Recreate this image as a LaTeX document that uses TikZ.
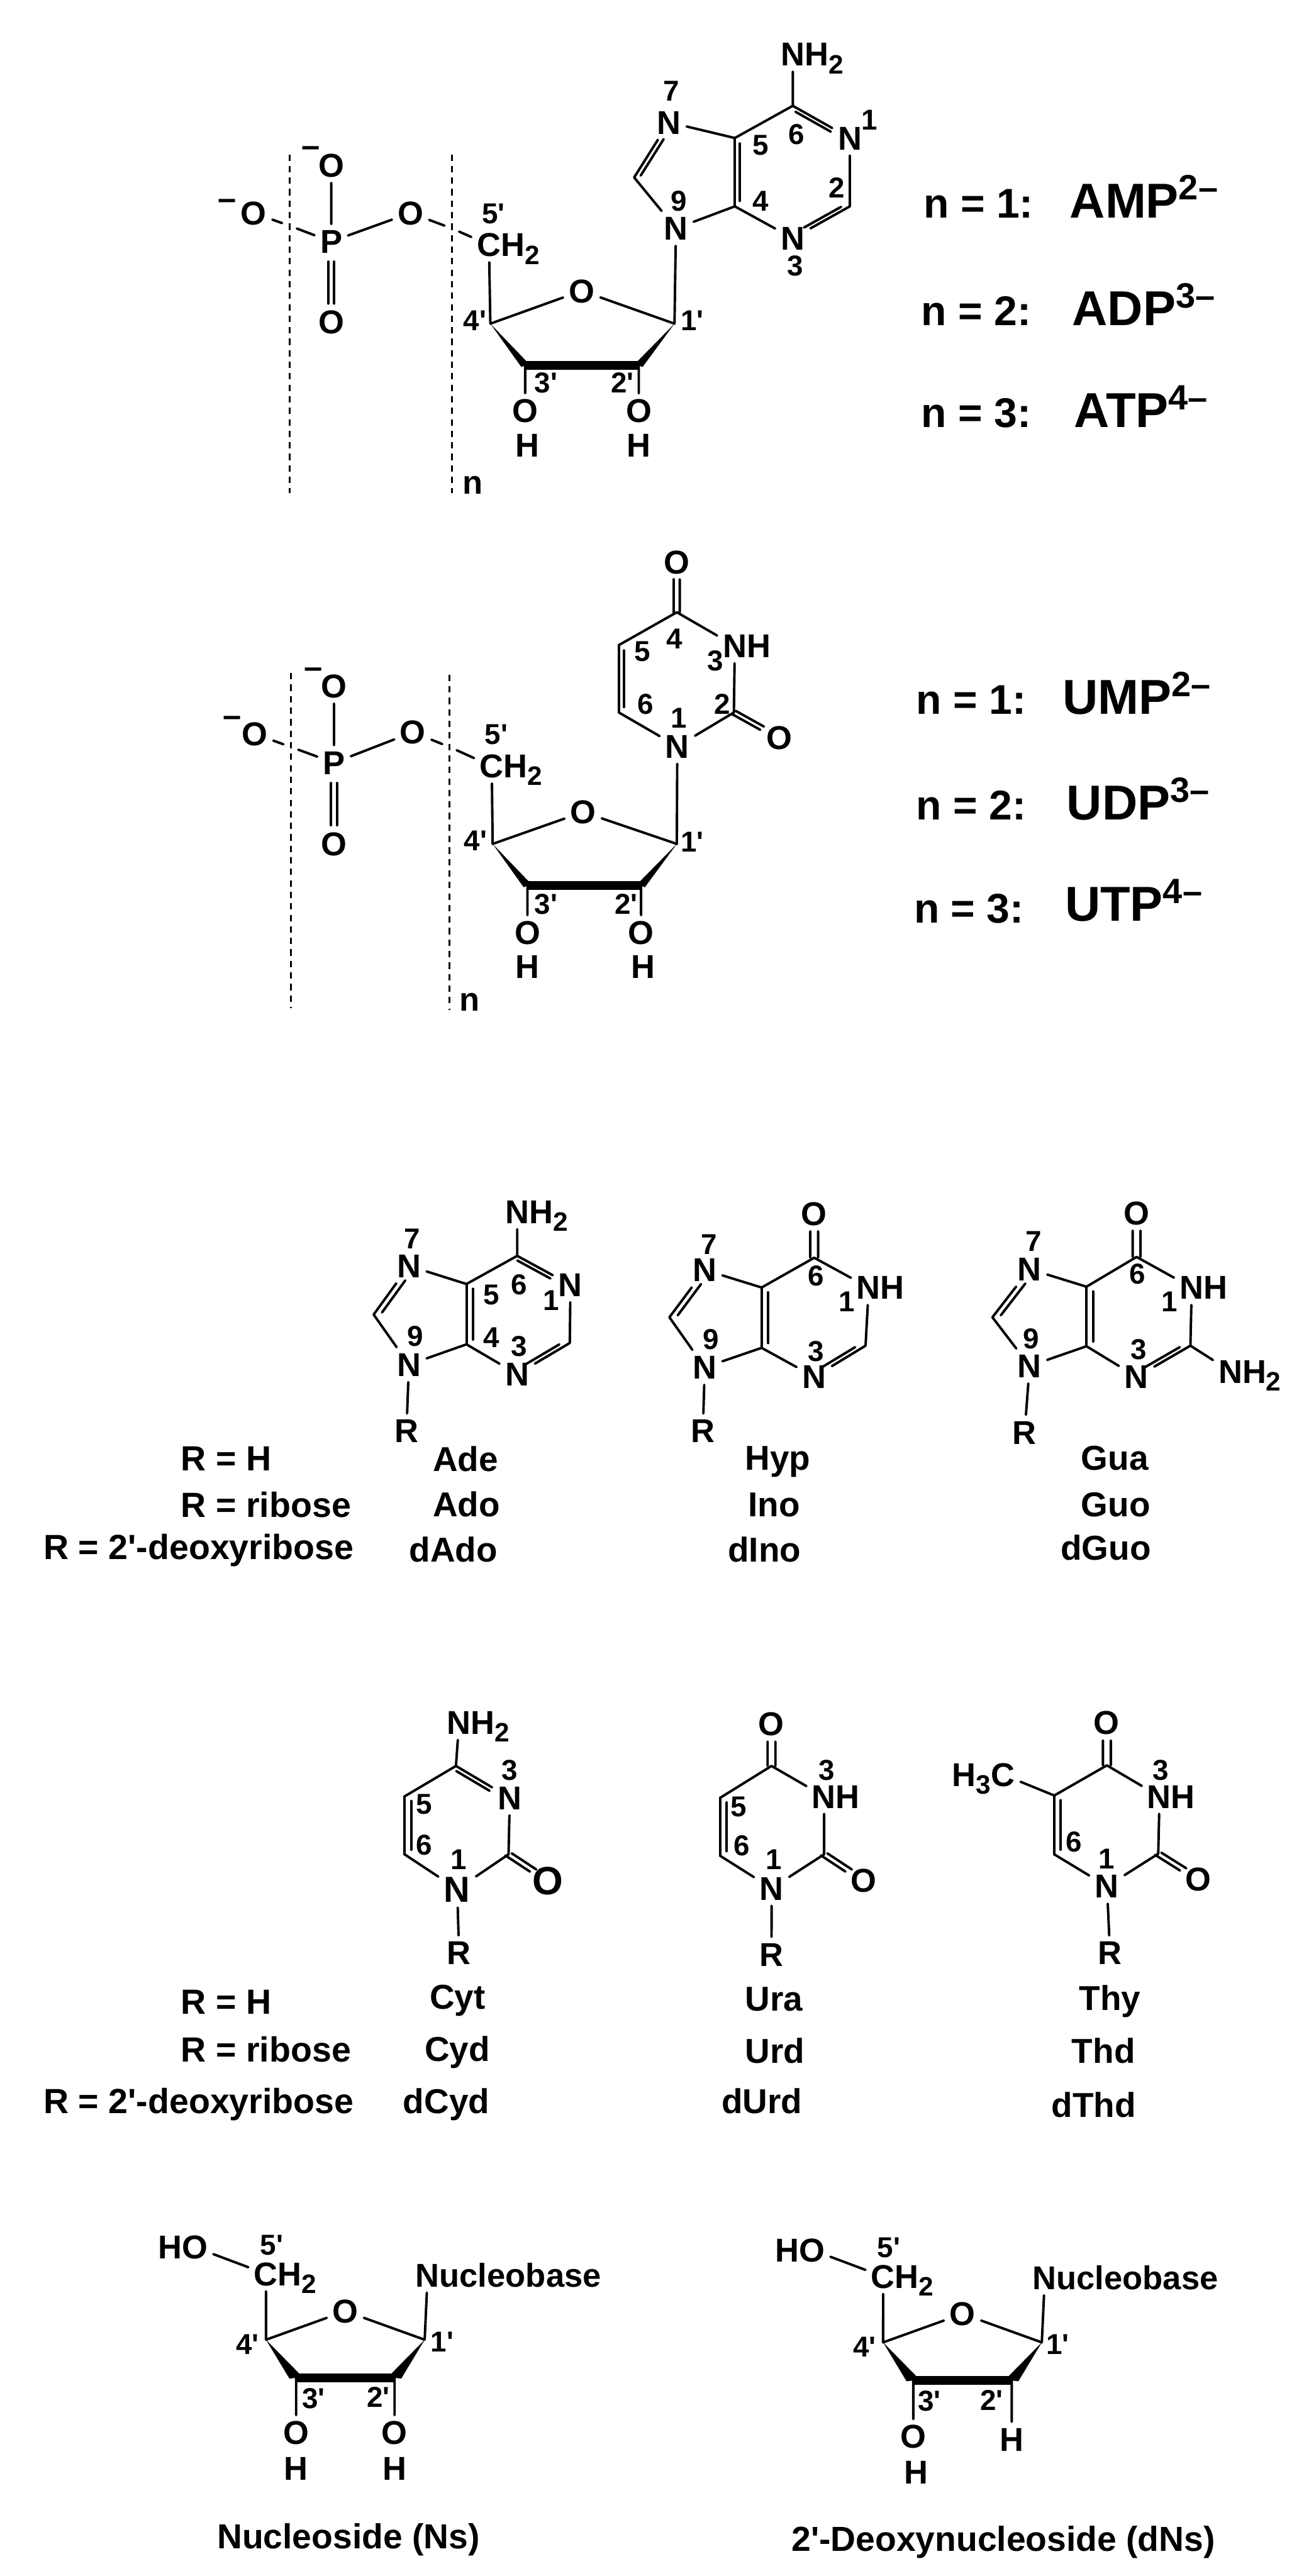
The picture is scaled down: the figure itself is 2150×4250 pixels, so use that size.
\documentclass[tikz,border=0pt]{standalone}
\usepackage{fontspec}
\usetikzlibrary{calc}
\newfontfamily\lab{Liberation Sans}
\newcommand\fAtom{\lab\bfseries\fontsize{15.5}{18}\selectfont}
\newcommand\fBigN{\lab\bfseries\fontsize{17}{20}\selectfont}
\newcommand\fBigO{\lab\bfseries\fontsize{18.5}{20}\selectfont}
\newcommand\fNum{\lab\bfseries\fontsize{13.5}{16}\selectfont}
\newcommand\fName{\lab\bfseries\fontsize{16.2}{19}\selectfont}
\newcommand\fTag{\lab\bfseries\fontsize{16.4}{20}\selectfont}
\newcommand\fCap{\lab\bfseries\fontsize{16.3}{20}\selectfont}
\newcommand\fN{\lab\bfseries\fontsize{19.5}{22}\selectfont}
\newcommand\fHead{\lab\bfseries\fontsize{23}{26}\selectfont}
\newcommand\fSup{\fontsize{16.5}{18}\selectfont}
\newcommand\sbs[1]{\raisebox{-3.6pt}{\fontsize{12.5}{14}\selectfont #1}}
\newcommand\spr[1]{\raisebox{8.3pt}{\fSup #1}}
\tikzset{
  bond/.style={line width=1.15pt,line cap=round,black},
  atom/.style={font=\fAtom,inner sep=2.5pt,text height=11pt,text depth=0pt},
  num/.style={font=\fNum,inner sep=0pt},
  minusmark/.style={font=\fAtom,inner sep=0pt},
  basetext/.style={anchor=base west,inner sep=0pt},
  gapnode/.style={circle,inner sep=0pt,minimum size=7pt},
  dashline/.style={line width=1pt,dash pattern=on 3pt off 2.4pt,black},
  barbond/.style={line width=4.1pt,line cap=butt,black},
  zoomA/.style={shift={(300,0)},xscale=0.7651,yscale=0.5421},
  zoomB/.style={shift={(300,880)},xscale=0.7651,yscale=0.5421},
  zoomC/.style={shift={(550,1930)},xscale=1.0204,yscale=0.4464},
  zoomD/.style={shift={(550,2770)},xscale=1.0204,yscale=0.4783},
  zoomE/.style={shift={(200,3560)},xscale=1.2117,yscale=0.4401},
}
\newcommand\Cds[1]{\foreach \n/\x/\y in {#1}{\coordinate (\n) at (\x,\y);}}
\newcommand\Atm[1]{\foreach \n/\tx/\x/\y in {#1}{\node[atom] (\n) at (\x,\y) {\tx};}}
\newcommand\Nms[1]{\foreach \s/\x/\y [count=\i] in {#1}{\node[num] (num\i) at (\x,\y) {\s};}}
\newcommand\Bds[1]{\foreach \p/\q in {#1}{\draw[bond] (\p) -- (\q);}}
% inner line of a double bond: a, b, side angle, start fraction, end fraction
\newcommand\Inb[5]{\draw[bond] ($(#1)!#4!(#2)!3pt!#3:(#2)$) -- ($(#1)!#5!(#2)!3pt!#3:(#2)$);}
% two parallel lines of an exocyclic double bond
\newcommand\Exo[4]{\draw[bond] ($(#1)!#3!(#2)!1.8pt!90:(#2)$) -- ($(#1)!#4!(#2)!1.8pt!90:(#2)$);
  \draw[bond] ($(#1)!#3!(#2)!1.8pt!-90:(#2)$) -- ($(#1)!#4!(#2)!1.8pt!-90:(#2)$);}
\newcommand\Wdg[2]{\fill[black] (#1) -- ($(#2)!2.7pt!90:(#1)$) -- ($(#2)!2.7pt!-90:(#1)$) -- cycle;}
\newcommand\Sgr[4]{\Wdg{#1}{#2}\Wdg{#4}{#3}\draw[barbond] (#2) -- (#3);}
\begin{document}
\begin{tikzpicture}[x=0.01cm,y=-0.01cm]
\fill[white] (0,0) rectangle (2150,4250);
\useasboundingbox (0,0) rectangle (2150,4250);

%% ---------- AMP / ADP / ATP
\begin{scope}[zoomA,name prefix=a-]
\Cds{c6/1317/322,c2/1440/628,c4/1192/628,c5/1192/420,c8/975/540,c1p/1062/985,c4p/665/985,c3p/740/1112,c2p/985/1112,d1t/232/470,d1b/232/1500,d2t/582/470,d2b/582/1500}
\Atm{nh/{N\rlap{H\sbs{2}}}/1317/165,n1/N/1440/420,n3/N/1317/725,n7/N/1050/372,n9/N/1065/695,o/O/862/885,
 o3/O/740/1250,h3/H/745/1355,o2/O/985/1250,h2/H/985/1355,ch/{C\rlap{H\sbs{2}}}/662/745,
 ob/O/493/648,p/P/322/735,ot/O/322/503,od/O/322/980,ol/O/155/648}
\node[gapnode] (g1) at (232,687) {};
\node[gapnode] (g2) at (582,695) {};
\Bds{c6/nh,c6/n1,n1/c2,c2/n3,n3/c4,c4/c5,c5/c6,c5/n7,n7/c8,c8/n9,n9/c4,n9/c1p,o/c1p,o/c4p,c4p/ch,c3p/o3,c2p/o2,ol/g1,g1/p,p/ot,p/ob,ob/g2,g2/ch}
\Inb{c6}{n1}{-90}{0.1}{0.72}
\Inb{c5}{c4}{90}{0.08}{0.92}
\Inb{c8}{n7}{-90}{0.06}{0.72}
\Inb{c2}{n3}{-90}{0.1}{0.75}
\Exo{p}{od}{0.25}{0.77}
\Sgr{c4p}{c3p}{c2p}{c1p}
\draw[dashline] (d1t) -- (d1b);
\draw[dashline] (d2t) -- (d2b);
\node[minusmark] (mt) at (278,462) {–};
\node[minusmark] (ml) at (98,622) {–};
\Nms{7/1055/278,1/1483/365,6/1325/410,5/1248/443,2/1412/572,4/1248/612,9/1072/612,3/1322/810,5'/672/650,4'/632/975,1'/1100/975,3'/785/1165,2'/950/1165}
\node[basetext,font=\fAtom] (nn) at (605,1503) {n};
\end{scope}
\node[basetext,font=\fN] (na1) at (1523,359) {n = 1:};
\node[basetext,font=\fN] (na2) at (1519,537) {n = 2:};
\node[basetext,font=\fN] (na3) at (1519,705) {n = 3:};
\node[basetext,font=\fHead] (amp) at (1764,359) {AMP\spr{2–}};
\node[basetext,font=\fHead] (adp) at (1768,537) {ADP\spr{3–}};
\node[basetext,font=\fHead] (atp) at (1771,705) {ATP\spr{4–}};

%% ---------- UMP / UDP / UTP
\begin{scope}[zoomB,name prefix=u-]
\Cds{c4/1067/240,c2/1190/545,c6/942/545,c5/942/340,c1p/1067/945,c4p/670/945,c3p/745/1072,c2p/990/1072,d1t/235/425,d1b/235/1445,d2t/577/430,d2b/577/1450}
\Atm{o4/O/1067/88,n3/{N\rlap{H}}/1192/342,o2x/O/1288/622,n1/N/1068/648,o/O/865/848,
 o3/O/745/1215,h3/H/745/1318,o2/O/990/1215,h2/H/995/1318,ch/{C\rlap{H\sbs{2}}}/668/708,
 ob/O/498/605,p/P/328/698,ot/O/328/465,od/O/328/945,ol/O/157/610}
\node[gapnode] (g1) at (235,650) {};
\node[gapnode] (g2) at (577,650) {};
\Bds{c4/n3,n3/c2,c2/n1,n1/c6,c6/c5,c5/c4,n1/c1p,o/c1p,o/c4p,c4p/ch,c3p/o3,c2p/o2,ol/g1,g1/p,p/ot,p/ob,ob/g2,g2/ch}
\Inb{c5}{c6}{90}{0.08}{0.92}
\Exo{c4}{o4}{0}{0.66}
\Exo{c2}{o2x}{0}{0.62}
\Exo{p}{od}{0.25}{0.77}
\Sgr{c4p}{c3p}{c2p}{c1p}
\draw[dashline] (d1t) -- (d1b);
\draw[dashline] (d2t) -- (d2b);
\node[minusmark] (mt) at (283,425) {–};
\node[minusmark] (ml) at (108,572) {–};
\Nms{4/1062/320,5/993/360,3/1150/388,6/1000/520,2/1165/520,1/1072/562,5'/678/612,4'/633/935,1'/1100/940,3'/785/1128,2'/958/1128}
\node[basetext,font=\fAtom] (nn) at (598,1453) {n};
\end{scope}
\node[basetext,font=\fN] (nu1) at (1511,1178) {n = 1:};
\node[basetext,font=\fN] (nu2) at (1511,1353) {n = 2:};
\node[basetext,font=\fN] (nu3) at (1507,1523) {n = 3:};
\node[basetext,font=\fHead] (ump) at (1752,1178) {UMP\spr{2–}};
\node[basetext,font=\fHead] (udp) at (1759,1353) {UDP\spr{3–}};
\node[basetext,font=\fHead] (utp) at (1756,1520) {UTP\spr{4–}};

%% ---------- purines
\begin{scope}[zoomC,name prefix=ade-]
\Cds{c6/297/318,c2/382/640,c4/215/645,c5/215/422,c8/65/535}
\Atm{nh/{N\rlap{H\sbs{2}}}/297/155,n1/N/383/425,n3/N/297/755,n7/N/122/355,n9/N/122/720,r/R/118/965}
\Bds{c6/nh,c6/n1,n1/c2,c2/n3,n3/c4,c4/c5,c5/c6,c5/n7,n7/c8,c8/n9,n9/c4,n9/r}
\Inb{c6}{n1}{-90}{0.1}{0.72}
\Inb{c5}{c4}{90}{0.08}{0.92}
\Inb{c8}{n7}{-90}{0.06}{0.72}
\Inb{c2}{n3}{-90}{0.1}{0.75}
\Nms{7/127/255,6/300/425,5/255/462,1/352/482,4/255/620,9/132/615,3/300/652}
\node[basetext,font=\fName] (t1) at (160,1115) {Ade};
\node[basetext,font=\fName] (t2) at (160,1282) {Ado};
\node[basetext,font=\fName] (t3) at (122,1450) {dAdo};
\end{scope}
\begin{scope}[zoomC,name prefix=hyp-]
\Cds{c6/777/325,c2/860/650,c4/692/658,c5/692/435,c8/543/545}
\Atm{o6/O/777/162,n1/{N\rlap{H}}/865/435,n3/N/777/765,n7/N/600/370,n9/N/600/730,r/R/597/965}
\Bds{c6/n1,n1/c2,c2/n3,n3/c4,c4/c5,c5/c6,c5/n7,n7/c8,c8/n9,n9/c4,n9/r}
\Exo{c6}{o6}{0}{0.6}
\Inb{c5}{c4}{90}{0.08}{0.92}
\Inb{c8}{n7}{-90}{0.06}{0.72}
\Inb{c2}{n3}{-90}{0.1}{0.75}
\Nms{7/607/275,6/780/392,1/830/487,3/780/672,9/610/627}
\node[basetext,font=\fName] (t1) at (665,1110) {Hyp};
\node[basetext,font=\fName] (t2) at (670,1282) {Ino};
\node[basetext,font=\fName] (t3) at (637,1450) {dIno};
\end{scope}
\begin{scope}[zoomC,name prefix=gua-]
\Cds{c6/1298/322,c2/1385/650,c4/1217/652,c5/1217/432,c8/1065/545}
\Atm{o6/O/1298/160,n1/{N\rlap{H}}/1387/435,n3/N/1298/765,n7/N/1125/367,n9/N/1125/725,r/R/1117/970,nh/{N\rlap{H\sbs{2}}}/1450/745}
\Bds{c6/n1,n1/c2,c2/n3,n3/c4,c4/c5,c5/c6,c5/n7,n7/c8,c8/n9,n9/c4,n9/r,c2/nh}
\Exo{c6}{o6}{0}{0.6}
\Inb{c5}{c4}{90}{0.08}{0.92}
\Inb{c8}{n7}{-90}{0.06}{0.72}
\Inb{c2}{n3}{-90}{0.1}{0.75}
\Nms{7/1132/265,6/1300/385,1/1352/487,3/1302/665,9/1128/625}
\node[basetext,font=\fName] (t1) at (1208,1110) {Gua};
\node[basetext,font=\fName] (t2) at (1208,1282) {Guo};
\node[basetext,font=\fName] (t3) at (1175,1442) {dGuo};
\end{scope}
\node[basetext,font=\fTag] (ra1) at (298,2426) {R = H};
\node[basetext,font=\fTag] (ra2) at (298,2503) {R = ribose};
\node[basetext,font=\fTag] (ra3) at (71,2573) {R = 2'-deoxyribose};

%% ---------- pyrimidines
\begin{scope}[zoomD,name prefix=cyt-]
\Cds{c4/198/300,c2/283/605,c6/115/605,c5/115/405}
\Atm{nh/{N\rlap{H\sbs{2}}}/203/150,n3/N/285/410,r/R/203/945}
\node[atom,font=\fBigN,text height=12pt] (n1) at (200,725) {N};
\node[atom,font=\fBigO,text height=13pt] (o2) at (347,695) {O};
\Bds{c4/nh,c4/n3,n3/c2,c2/n1,n1/c6,c6/c5,c5/c4,n1/r}
\Inb{c4}{n3}{-90}{0.1}{0.72}
\Inb{c5}{c6}{90}{0.08}{0.92}
\Exo{c2}{o2}{0}{0.62}
\Nms{3/285/315,5/147/432,6/147/572,1/203/622}
\node[basetext,font=\fName] (t1) at (155,1138) {Cyt};
\node[basetext,font=\fName] (t2) at (147,1318) {Cyd};
\node[basetext,font=\fName] (t3) at (112,1498) {dCyd};
\end{scope}
\begin{scope}[zoomD,name prefix=ura-]
\Cds{c4/708/300,c2/793/605,c6/625/610,c5/625/410}
\Atm{o4/O/708/155,n3/{N\rlap{H}}/793/405,o2/O/857/695,n1/N/708/722,r/R/708/950}
\Bds{c4/n3,n3/c2,c2/n1,n1/c6,c6/c5,c5/c4,n1/r}
\Exo{c4}{o4}{0}{0.58}
\Exo{c2}{o2}{0}{0.62}
\Inb{c5}{c6}{90}{0.08}{0.92}
\Nms{3/797/315,5/655/440,6/660/575,1/712/622}
\node[basetext,font=\fName] (t1) at (665,1145) {Ura};
\node[basetext,font=\fName] (t2) at (665,1325) {Urd};
\node[basetext,font=\fName] (t3) at (627,1498) {dUrd};
\end{scope}
\begin{scope}[zoomD,name prefix=thy-]
\Cds{c4/1250/298,c2/1333/603,c6/1165/605,c5/1165/402}
\Atm{o4/O/1250/150,n3/{N\rlap{H}}/1335/405,o2/O/1398/690,n1/N/1250/715,r/R/1255/945,me/{\llap{H\sbs{3}}C}/1082/330}
\Bds{c4/n3,n3/c2,c2/n1,n1/c6,c6/c5,c5/c4,n1/r,me/c5}
\Exo{c4}{o4}{0}{0.58}
\Exo{c2}{o2}{0}{0.62}
\Inb{c5}{c6}{90}{0.08}{0.92}
\Nms{3/1337/315,6/1197/562,1/1250/620}
\node[basetext,font=\fName] (t1) at (1205,1142) {Thy};
\node[basetext,font=\fName] (t2) at (1193,1325) {Thd};
\node[basetext,font=\fName] (t3) at (1160,1512) {dThd};
\end{scope}
\node[basetext,font=\fTag] (rb1) at (298,3323) {R = H};
\node[basetext,font=\fTag] (rb2) at (298,3402) {R = ribose};
\node[basetext,font=\fTag] (rb3) at (71,3487) {R = 2'-deoxyribose};

%% ---------- nucleoside
\begin{scope}[zoomE,name prefix=ns-]
\Cds{c1p/413/682,c4p/197/682,c3p/238/825,c2p/372/825}
\Atm{oh/{\llap{H}O}/100/335,ch/{C\rlap{H\sbs{2}}}/197/435,nb/{N\rlap{ucleobase}}/417/440,o/O/305/575,o3/O/238/1030,h3/H/238/1165,o2/O/372/1030,h2/H/372/1165}
\Bds{oh/ch,ch/c4p,nb/c1p,o/c1p,o/c4p,c3p/o3,c2p/o2}
\Sgr{c4p}{c3p}{c2p}{c1p}
\Nms{5'/205/328,4'/172/700,1'/437/690,3'/262/903,2'/350/897}
\node[basetext,font=\fCap] (t1) at (130,1465) {Nucleoside (Ns)};
\end{scope}
\begin{scope}[zoomE,name prefix=dns-]
\Cds{c1p/1253/692,c4p/1037/692,c3p/1078/835,c2p/1212/835}
\Atm{oh/{\llap{H}O}/940/345,ch/{C\rlap{H\sbs{2}}}/1037/445,nb/{N\rlap{ucleobase}}/1257/450,o/O/1145/585,o3/O/1078/1045,h3/H/1082/1178,h2/H/1212/1055}
\Bds{oh/ch,ch/c4p,nb/c1p,o/c1p,o/c4p,c3p/o3,c2p/h2}
\Sgr{c4p}{c3p}{c2p}{c1p}
\Nms{5'/1045/338,4'/1012/710,1'/1275/700,3'/1100/912,2'/1185/908}
\node[basetext,font=\fCap] (t1) at (912,1475) {2'-Deoxynucleoside (dNs)};
\end{scope}
\end{tikzpicture}
\end{document}
